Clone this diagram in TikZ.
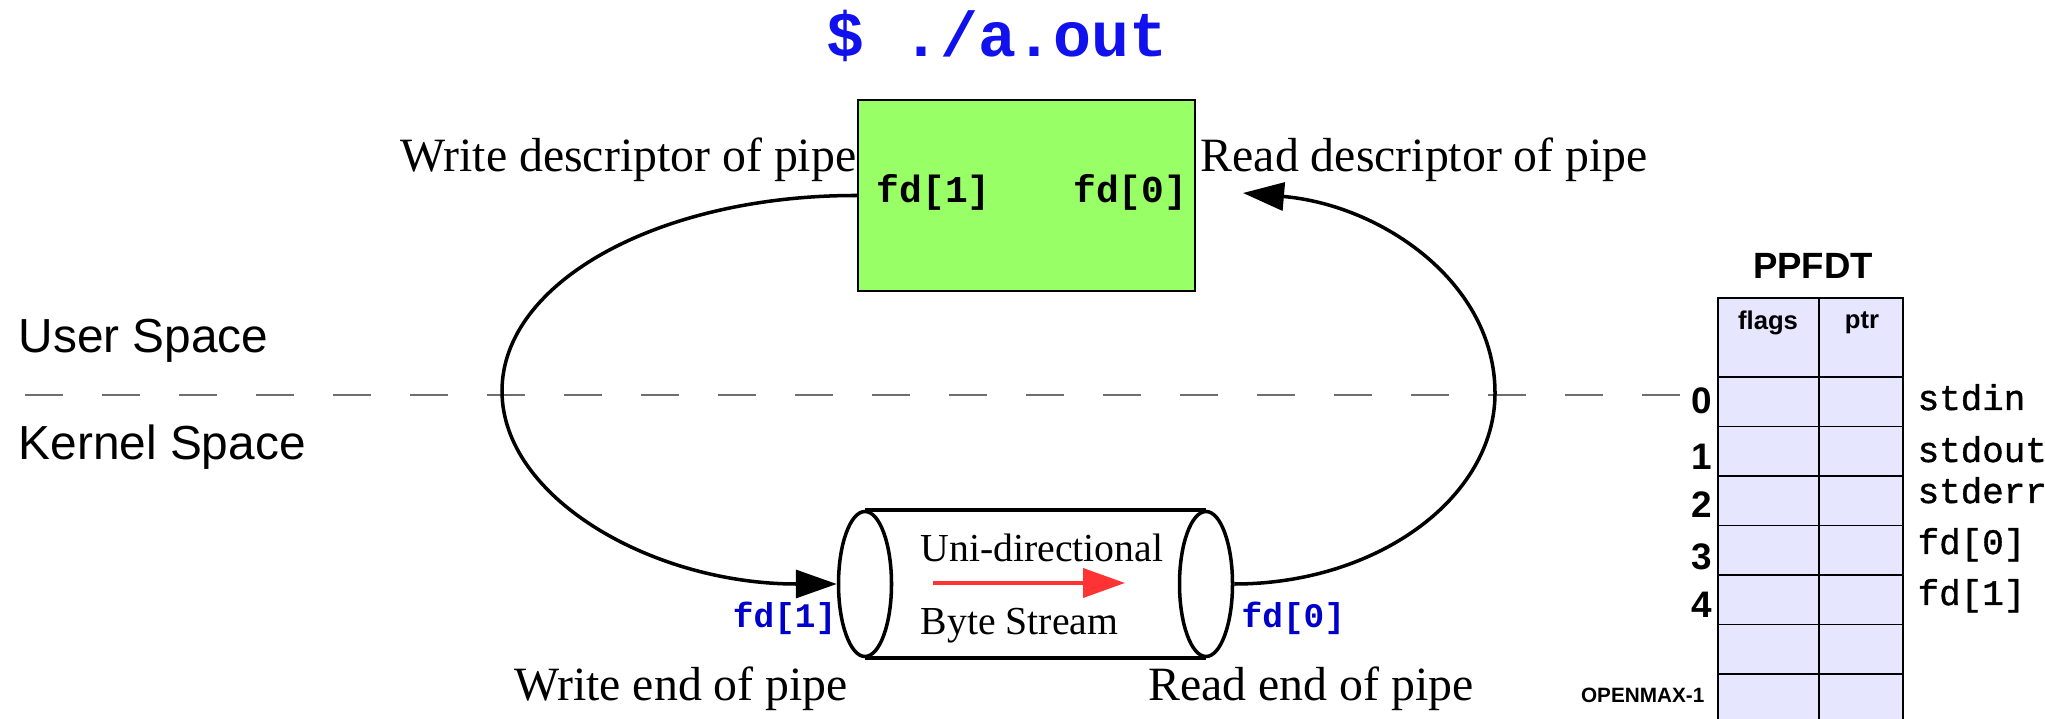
\documentclass[tikz,border=0pt]{standalone}
\usepackage{fontspec}
\setmainfont{Liberation Serif}
\setsansfont{Liberation Sans}
\setmonofont{Liberation Mono}
\newfontfamily\medmono[FakeBold=1.2]{Liberation Mono}
\usetikzlibrary{arrows.meta,shapes.geometric,positioning}

\definecolor{progfill}{RGB}{153,255,102}
\definecolor{tablefill}{RGB}{230,230,255}
\definecolor{fdblue}{RGB}{0,0,204}
\definecolor{titleblue}{RGB}{17,17,238}
\definecolor{streamred}{RGB}{255,51,51}
\definecolor{splitgray}{RGB}{110,110,110}

\tikzset{
  desc/.style={font=\fontsize{13.6}{16}\selectfont, inner sep=0pt},
  streamtext/.style={font=\fontsize{11.3}{13}\selectfont, inner sep=0pt, anchor=base west},
  spacelabel/.style={font=\sffamily\fontsize{13.6}{16}\selectfont, inner sep=0pt, anchor=base west},
  boxfd/.style={font=\ttfamily\bfseries\fontsize{10.8}{12}\selectfont, inner sep=0pt},
  endfd/.style={font=\ttfamily\bfseries\fontsize{9.8}{11}\selectfont, text=fdblue, inner sep=0pt},
  pipeend/.style={ellipse, draw, line width=1pt, fill=white, minimum width=5.3mm, minimum height=14.5mm, inner sep=0pt},
  fdline/.style={line width=1pt, -{Triangle[length=4.1mm,width=2.8mm]}},
  rownum/.style={font=\sffamily\bfseries\fontsize{10.5}{12}\selectfont, inner sep=0pt, anchor=east},
  stdname/.style={font=\medmono\fontsize{10.2}{12}\selectfont, inner sep=0pt, anchor=base west},
  tableline/.style={line width=0.45pt}
}

\begin{document}
\begin{tikzpicture}[x=0.1mm,y=-0.1mm]
\useasboundingbox (0,0) rectangle (2045,719);

% Program
\node[font=\ttfamily\bfseries\fontsize{18}{20}\selectfont, text=titleblue] (title) at (997,36) {\$ ./a.out};
\node[draw, line width=0.4pt, fill=progfill, minimum width=33.7mm, minimum height=19.1mm] (prog) at (1026.5,195.5) {};
\node[boxfd, anchor=base west] (pfd1) at (876,203) {fd[1]};
\node[boxfd, anchor=base east] (pfd0) at (1188,203) {fd[0]};
\node[desc, anchor=base east] (wdesc) at (857,172) {Write descriptor of pipe};
\node[desc, anchor=base west] (rdesc) at (1200,172) {Read descriptor of pipe};

% User / kernel split
\node[spacelabel] (user) at (18,353) {User Space};
\node[spacelabel] (kernel) at (18,460) {Kernel Space};
\coordinate (splitl) at (25,395);
\coordinate (splitr) at (1718,395);
\draw[splitgray, line width=0.55pt, dash pattern=on 3.8mm off 3.9mm] (splitl) -- (splitr);

% Pipe
\node[pipeend] (lend) at (865,584) {};
\node[pipeend] (rend) at (1206,584) {};
\draw[line width=1.1pt] (lend.north) -- (rend.north);
\draw[line width=1.1pt] (lend.south) -- (rend.south);
\node[streamtext] (uni) at (920,562) {Uni-directional};
\node[streamtext] (byte) at (920,635) {Byte Stream};
\coordinate (flowl) at (933,583);
\coordinate (flowr) at (1125,583);
\draw[streamred, line width=1.1pt, -{Triangle[length=4.2mm,width=2.9mm]}] (flowl) -- (flowr);
\node[endfd, anchor=base east] (efd1) at (837,628) {fd[1]};
\node[endfd, anchor=base west] (efd0) at (1241,628) {fd[0]};
\node[desc, anchor=base] (wend) at (681,700) {Write end of pipe};
\node[desc, anchor=base] (rend label) at (1311,700) {Read end of pipe};

% Descriptor arcs
\coordinate (rdtip) at (1243,193);
\draw[fdline] (prog.west) .. controls (661,195) and (502,281) .. (502,391)
  .. controls (502,498) and (653,584) .. (lend.west);
\draw[fdline] (rend.east) .. controls (1377,584) and (1495,498) .. (1495,393)
  .. controls (1495,283) and (1382,205) .. (rdtip);

% PPFDT
\node[font=\sffamily\bfseries\fontsize{10.4}{12}\selectfont] (ppfdt) at (1813,266) {PPFDT};
\fill[tablefill] (1718,298) rectangle (1903,730);
\draw[tableline] (1718,730) -- (1718,298) -- (1903,298) -- (1903,730);
\draw[tableline] (1819,298) -- (1819,730);
\foreach \y in {377,426.5,476,525.5,575,624.5,674}
  \draw[tableline] (1718,\y) -- (1903,\y);
\node[font=\sffamily\bfseries\fontsize{7.3}{9}\selectfont] (flags) at (1768,323) {flags};
\node[font=\sffamily\bfseries\fontsize{7.3}{9}\selectfont] (ptr) at (1862,323) {ptr};
\node[rownum] (n0) at (1713,401) {0};
\node[rownum] (n1) at (1713,457) {1};
\node[rownum] (n2) at (1713,505) {2};
\node[rownum] (n3) at (1713,557) {3};
\node[rownum] (n4) at (1713,605) {4};
\node[font=\sffamily\bfseries\fontsize{5.9}{7}\selectfont, inner sep=0pt, anchor=east] (openmax) at (1705,695) {OPENMAX-1};
\node[stdname] (sin) at (1917,410) {stdin};
\node[stdname] (sout) at (1917,462) {stdout};
\node[stdname] (serr) at (1917,503) {stderr};
\node[stdname] (tfd0) at (1917,554) {fd[0]};
\node[stdname] (tfd1) at (1917,605) {fd[1]};

\end{tikzpicture}
\end{document}
